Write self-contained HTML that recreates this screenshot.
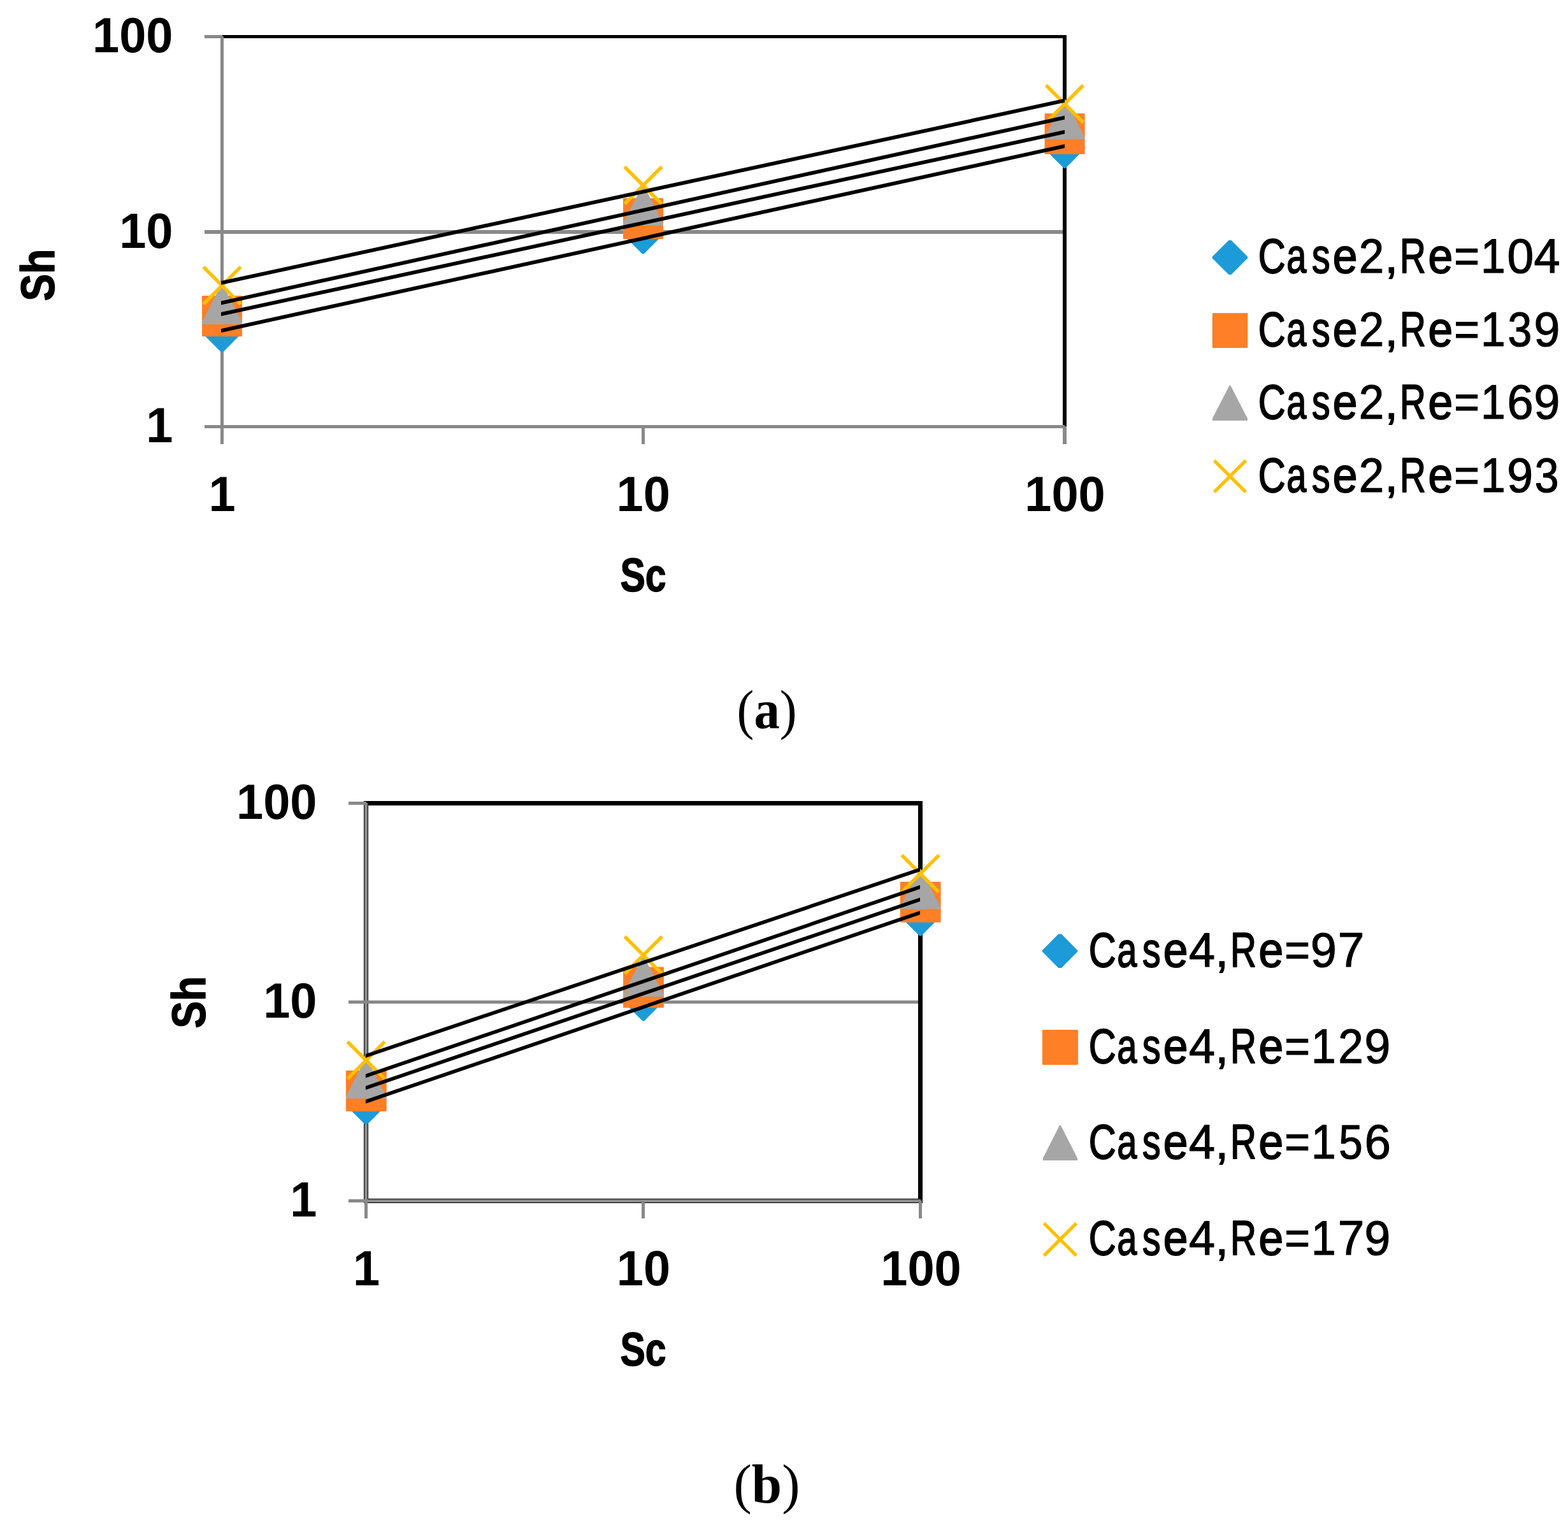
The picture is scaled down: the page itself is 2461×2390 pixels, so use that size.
<!DOCTYPE html>
<html lang="en">
<head>
<meta charset="utf-8">
<title>Sh versus Sc</title>
<style>
html, body { margin: 0; padding: 0; background: #ffffff; }
body { width: 2461px; height: 2390px; overflow: hidden; }
svg { display: block; }
text { font-family: "Liberation Sans", "DejaVu Sans", sans-serif; fill: #000000; }
text.cap { font-family: "Liberation Serif", "DejaVu Serif", serif; }
text.leg { stroke: #000000; stroke-width: 1.2px; stroke-linejoin: round; }
text.ttl { stroke: #000000; stroke-width: 1.5px; stroke-linejoin: round; }
</style>
</head>
<body>
<svg xmlns="http://www.w3.org/2000/svg" width="2461" height="2390" viewBox="0 0 2461 2390">
<rect x="0" y="0" width="2461" height="2390" fill="#ffffff"/>
<g shape-rendering="crispEdges">
<rect x="346" y="55" width="1328" height="5" fill="#000"/>
<rect x="1668" y="55" width="6" height="617" fill="#000"/>
<rect x="321" y="361" width="1347" height="6" fill="#898989"/>
<rect x="321" y="55" width="28" height="5" fill="#898989"/>
<rect x="321" y="667" width="1350" height="5" fill="#898989"/>
<rect x="346" y="57" width="5" height="640" fill="#898989"/>
<rect x="1007.2" y="669.5" width="5" height="27.5" fill="#898989"/>
<rect x="1668" y="669" width="6" height="28" fill="#898989"/>
</g>
<polygon points="347.15,489.8 349.75,489.8 379.95,520 379.95,522.6 349.75,552.8 347.15,552.8 316.95,522.6 316.95,520" fill="#1c9bd8"/>
<polygon points="1008.1,335.4 1010.7,335.4 1040.9,365.6 1040.9,368.2 1010.7,398.4 1008.1,398.4 977.9,368.2 977.9,365.6" fill="#1c9bd8"/>
<polygon points="1669.7,201 1672.3,201 1702.5,231.2 1702.5,233.8 1672.3,264 1669.7,264 1639.5,233.8 1639.5,231.2" fill="#1c9bd8"/>
<rect x="317.05" y="464.1" width="63" height="63.8" rx="1.2" ry="1.2" fill="#ff7f27"/>
<rect x="978" y="311.1" width="63" height="63.8" rx="1.2" ry="1.2" fill="#ff7f27"/>
<rect x="1639.6" y="178.1" width="63" height="63.8" rx="1.2" ry="1.2" fill="#ff7f27"/>
<polygon points="347.55,445.95 349.35,445.95 379.95,505.55 379.95,508.95 316.95,508.95 316.95,505.55" fill="#a6a6a6"/>
<polygon points="1008.5,291 1010.3,291 1040.9,350.6 1040.9,354 977.9,354 977.9,350.6" fill="#a6a6a6"/>
<polygon points="1670.1,155.8 1671.9,155.8 1702.5,215.4 1702.5,218.8 1639.5,218.8 1639.5,215.4" fill="#a6a6a6"/>
<path d="M319.24,418.84 L377.66,477.26 M377.66,418.84 L319.24,477.26" fill="none" stroke="#ffc000" stroke-width="5.5"/>
<path d="M980.19,261.69 L1038.61,320.11 M1038.61,261.69 L980.19,320.11" fill="none" stroke="#ffc000" stroke-width="5.5"/>
<path d="M1641.79,133.79 L1700.21,192.21 M1700.21,133.79 L1641.79,192.21" fill="none" stroke="#ffc000" stroke-width="5.5"/>
<g fill="#000">
<polygon points="347,515.93 1671,226.3 1671,232.3 347,521.93"/>
<polygon points="347,489.92 1671,203.9 1671,209.9 347,495.92"/>
<polygon points="347,472.43 1671,181.4 1671,187.4 347,478.43"/>
<polygon points="347,440.92 1671,154.8 1671,160.8 347,446.92"/>
</g>
<g shape-rendering="crispEdges">
<rect x="571" y="1257" width="877" height="7" fill="#000"/>
<rect x="1441" y="1257" width="7" height="631" fill="#000"/>
<rect x="571" y="1257" width="7" height="631" fill="#000"/>
<rect x="571" y="1881" width="877" height="7" fill="#000"/>
<rect x="547" y="1569.7" width="894" height="5.6" fill="#898989"/>
<rect x="547" y="1258" width="28" height="5" fill="#898989"/>
<rect x="547" y="1882" width="897.5" height="5" fill="#898989"/>
<rect x="572" y="1260" width="5" height="652" fill="#898989"/>
<rect x="1007" y="1884.5" width="5" height="27.5" fill="#898989"/>
<rect x="1442" y="1884" width="5" height="28" fill="#898989"/>
</g>
<polygon points="573.3,1702 575.9,1702 606.1,1732.2 606.1,1734.8 575.9,1765 573.3,1765 543.1,1734.8 543.1,1732.2" fill="#1c9bd8"/>
<polygon points="1008.5,1539.2 1011.1,1539.2 1041.3,1569.4 1041.3,1572 1011.1,1602.2 1008.5,1602.2 978.3,1572 978.3,1569.4" fill="#1c9bd8"/>
<polygon points="1443.2,1405.7 1445.8,1405.7 1476,1435.9 1476,1438.5 1445.8,1468.7 1443.2,1468.7 1413,1438.5 1413,1435.9" fill="#1c9bd8"/>
<rect x="542.9" y="1680.1" width="63.8" height="63.8" rx="1.2" ry="1.2" fill="#ff7f27"/>
<rect x="978.1" y="1517.6" width="63.8" height="63.8" rx="1.2" ry="1.2" fill="#ff7f27"/>
<rect x="1412.8" y="1383.7" width="63.8" height="63.8" rx="1.2" ry="1.2" fill="#ff7f27"/>
<polygon points="573.7,1661 575.5,1661 606.1,1720.6 606.1,1724 543.1,1724 543.1,1720.6" fill="#a6a6a6"/>
<polygon points="1008.9,1501 1010.7,1501 1041.3,1560.6 1041.3,1564 978.3,1564 978.3,1560.6" fill="#a6a6a6"/>
<polygon points="1443.6,1363.7 1445.4,1363.7 1476,1423.3 1476,1426.7 1413,1426.7 1413,1423.3" fill="#a6a6a6"/>
<path d="M545.39,1634.69 L603.81,1693.11 M603.81,1634.69 L545.39,1693.11" fill="none" stroke="#ffc000" stroke-width="5.5"/>
<path d="M980.59,1469.69 L1039.01,1528.11 M1039.01,1469.69 L980.59,1528.11" fill="none" stroke="#ffc000" stroke-width="5.5"/>
<path d="M1415.29,1341.89 L1473.71,1400.31 M1473.71,1341.89 L1415.29,1400.31" fill="none" stroke="#ffc000" stroke-width="5.5"/>
<g fill="#000">
<polygon points="573.9,1725.8 1444,1429.17 1444,1435.17 573.9,1731.8"/>
<polygon points="573.9,1704.2 1444,1408.57 1444,1414.57 573.9,1710.2"/>
<polygon points="573.9,1685.6 1444,1389.07 1444,1395.07 573.9,1691.6"/>
<polygon points="573.9,1654 1444,1361.57 1444,1367.57 573.9,1660"/>
</g>
<text transform="translate(271.5 82.3) scale(0.985 1)" font-size="77" font-weight="bold" text-anchor="end">100</text>
<text transform="translate(271.5 388.8) scale(0.985 1)" font-size="77" font-weight="bold" text-anchor="end">10</text>
<text transform="translate(271.5 694.3) scale(0.985 1)" font-size="77" font-weight="bold" text-anchor="end">1</text>
<text transform="translate(348.5 801.8) scale(0.985 1)" font-size="77" font-weight="bold" text-anchor="middle">1</text>
<text transform="translate(1009.7 801.8) scale(0.985 1)" font-size="77" font-weight="bold" text-anchor="middle">10</text>
<text transform="translate(1671.5 801.8) scale(0.985 1)" font-size="77" font-weight="bold" text-anchor="middle">100</text>
<text class="ttl" transform="translate(1009.5 928.4) scale(0.795 1)" font-size="74.2" font-weight="bold" text-anchor="middle">Sc</text>
<text transform="translate(84.6 431.6) rotate(-90) scale(0.862 1)" class="ttl" font-size="74.2" font-weight="bold" text-anchor="middle">Sh</text>
<text transform="translate(497.5 1285.3) scale(0.985 1)" font-size="77" font-weight="bold" text-anchor="end">100</text>
<text transform="translate(497.5 1597.3) scale(0.985 1)" font-size="77" font-weight="bold" text-anchor="end">10</text>
<text transform="translate(497.5 1909.3) scale(0.985 1)" font-size="77" font-weight="bold" text-anchor="end">1</text>
<text transform="translate(575 2016.5) scale(0.985 1)" font-size="77" font-weight="bold" text-anchor="middle">1</text>
<text transform="translate(1010 2016.5) scale(0.985 1)" font-size="77" font-weight="bold" text-anchor="middle">10</text>
<text transform="translate(1445.5 2016.5) scale(0.985 1)" font-size="77" font-weight="bold" text-anchor="middle">100</text>
<text class="ttl" transform="translate(1009.5 2142.9) scale(0.795 1)" font-size="74.2" font-weight="bold" text-anchor="middle">Sc</text>
<text transform="translate(322.1 1572.8) rotate(-90) scale(0.862 1)" class="ttl" font-size="74.2" font-weight="bold" text-anchor="middle">Sh</text>
<polygon points="1928.55,376.9 1932.35,376.9 1958.1,402.65 1958.1,405.35 1932.35,431.1 1928.55,431.1 1902.8,405.35 1902.8,402.65" fill="#1c9bd8"/>
<rect x="1902.8" y="491.2" width="55.5" height="54.8" rx="1.2" ry="1.2" fill="#ff7f27"/>
<polygon points="1929.55,605 1931.35,605 1957.95,656.6 1957.95,660 1902.95,660 1902.95,656.6" fill="#a6a6a6"/>
<path d="M1905.72,722.67 L1955.28,772.23 M1955.28,722.67 L1905.72,772.23" fill="none" stroke="#ffc000" stroke-width="5.3"/>
<text class="leg" y="427.9" font-size="75.5"><tspan x="1974.63" textLength="42.99" lengthAdjust="spacingAndGlyphs" stroke-width="1.9">C</tspan><tspan x="2019.15" textLength="31.17" lengthAdjust="spacingAndGlyphs" stroke-width="1.9">a</tspan><tspan x="2058.93" textLength="28.62" lengthAdjust="spacingAndGlyphs" stroke-width="1.9">s</tspan><tspan x="2091.76" textLength="38.7" lengthAdjust="spacingAndGlyphs" stroke-width="1.9">e</tspan><tspan x="2132.69" textLength="39.52" lengthAdjust="spacingAndGlyphs">2</tspan><tspan x="2173.02" textLength="21.44" lengthAdjust="spacingAndGlyphs">,</tspan><tspan x="2197.09" textLength="40.96" lengthAdjust="spacingAndGlyphs" stroke-width="1.9">R</tspan><tspan x="2241.49" textLength="38.7" lengthAdjust="spacingAndGlyphs" stroke-width="1.9">e</tspan><tspan x="2282.15" textLength="39.81" lengthAdjust="spacingAndGlyphs">=</tspan><tspan x="2324.07" textLength="38.81" lengthAdjust="spacingAndGlyphs">1</tspan><tspan x="2365.53" textLength="41.77" lengthAdjust="spacingAndGlyphs">0</tspan><tspan x="2407.6" textLength="41.09" lengthAdjust="spacingAndGlyphs">4</tspan></text>
<text class="leg" y="542.6" font-size="75.5"><tspan x="1974.63" textLength="42.99" lengthAdjust="spacingAndGlyphs" stroke-width="1.9">C</tspan><tspan x="2019.15" textLength="31.17" lengthAdjust="spacingAndGlyphs" stroke-width="1.9">a</tspan><tspan x="2058.93" textLength="28.62" lengthAdjust="spacingAndGlyphs" stroke-width="1.9">s</tspan><tspan x="2091.76" textLength="38.7" lengthAdjust="spacingAndGlyphs" stroke-width="1.9">e</tspan><tspan x="2132.69" textLength="39.52" lengthAdjust="spacingAndGlyphs">2</tspan><tspan x="2173.02" textLength="21.44" lengthAdjust="spacingAndGlyphs">,</tspan><tspan x="2197.09" textLength="40.96" lengthAdjust="spacingAndGlyphs" stroke-width="1.9">R</tspan><tspan x="2241.49" textLength="38.7" lengthAdjust="spacingAndGlyphs" stroke-width="1.9">e</tspan><tspan x="2282.15" textLength="39.81" lengthAdjust="spacingAndGlyphs">=</tspan><tspan x="2324.07" textLength="38.81" lengthAdjust="spacingAndGlyphs">1</tspan><tspan x="2366.62" textLength="37.79" lengthAdjust="spacingAndGlyphs">3</tspan><tspan x="2407.45" textLength="40.86" lengthAdjust="spacingAndGlyphs">9</tspan></text>
<text class="leg" y="657.3" font-size="75.5"><tspan x="1974.63" textLength="42.99" lengthAdjust="spacingAndGlyphs" stroke-width="1.9">C</tspan><tspan x="2019.15" textLength="31.17" lengthAdjust="spacingAndGlyphs" stroke-width="1.9">a</tspan><tspan x="2058.93" textLength="28.62" lengthAdjust="spacingAndGlyphs" stroke-width="1.9">s</tspan><tspan x="2091.76" textLength="38.7" lengthAdjust="spacingAndGlyphs" stroke-width="1.9">e</tspan><tspan x="2132.69" textLength="39.52" lengthAdjust="spacingAndGlyphs">2</tspan><tspan x="2173.02" textLength="21.44" lengthAdjust="spacingAndGlyphs">,</tspan><tspan x="2197.09" textLength="40.96" lengthAdjust="spacingAndGlyphs" stroke-width="1.9">R</tspan><tspan x="2241.49" textLength="38.7" lengthAdjust="spacingAndGlyphs" stroke-width="1.9">e</tspan><tspan x="2282.15" textLength="39.81" lengthAdjust="spacingAndGlyphs">=</tspan><tspan x="2324.07" textLength="38.81" lengthAdjust="spacingAndGlyphs">1</tspan><tspan x="2365.4" textLength="41.13" lengthAdjust="spacingAndGlyphs">6</tspan><tspan x="2407.45" textLength="40.86" lengthAdjust="spacingAndGlyphs">9</tspan></text>
<text class="leg" y="772" font-size="75.5"><tspan x="1974.63" textLength="42.99" lengthAdjust="spacingAndGlyphs" stroke-width="1.9">C</tspan><tspan x="2019.15" textLength="31.17" lengthAdjust="spacingAndGlyphs" stroke-width="1.9">a</tspan><tspan x="2058.93" textLength="28.62" lengthAdjust="spacingAndGlyphs" stroke-width="1.9">s</tspan><tspan x="2091.76" textLength="38.7" lengthAdjust="spacingAndGlyphs" stroke-width="1.9">e</tspan><tspan x="2132.69" textLength="39.52" lengthAdjust="spacingAndGlyphs">2</tspan><tspan x="2173.02" textLength="21.44" lengthAdjust="spacingAndGlyphs">,</tspan><tspan x="2197.09" textLength="40.96" lengthAdjust="spacingAndGlyphs" stroke-width="1.9">R</tspan><tspan x="2241.49" textLength="38.7" lengthAdjust="spacingAndGlyphs" stroke-width="1.9">e</tspan><tspan x="2282.15" textLength="39.81" lengthAdjust="spacingAndGlyphs">=</tspan><tspan x="2324.07" textLength="38.81" lengthAdjust="spacingAndGlyphs">1</tspan><tspan x="2365.21" textLength="40.86" lengthAdjust="spacingAndGlyphs">9</tspan><tspan x="2408.86" textLength="37.79" lengthAdjust="spacingAndGlyphs">3</tspan></text>
<polygon points="1661.2,1465.75 1665.9,1465.75 1691.2,1491.3 1691.2,1493.4 1665.9,1518.95 1661.2,1518.95 1635.9,1493.4 1635.9,1491.3" fill="#1c9bd8"/>
<rect x="1635.9" y="1615.9" width="56.2" height="55" rx="1.2" ry="1.2" fill="#ff7f27"/>
<polygon points="1663.05,1765.9 1664.85,1765.9 1691,1817.5 1691,1820.9 1636.9,1820.9 1636.9,1817.5" fill="#a6a6a6"/>
<path d="M1638.6,1919.65 L1689.3,1970.35 M1689.3,1919.65 L1638.6,1970.35" fill="none" stroke="#ffc000" stroke-width="5.3"/>
<text class="leg" y="1516.9" font-size="75.5"><tspan x="1708.63" textLength="42.99" lengthAdjust="spacingAndGlyphs" stroke-width="1.9">C</tspan><tspan x="1753.15" textLength="31.17" lengthAdjust="spacingAndGlyphs" stroke-width="1.9">a</tspan><tspan x="1792.93" textLength="28.62" lengthAdjust="spacingAndGlyphs" stroke-width="1.9">s</tspan><tspan x="1825.76" textLength="38.7" lengthAdjust="spacingAndGlyphs" stroke-width="1.9">e</tspan><tspan x="1865.89" textLength="41.09" lengthAdjust="spacingAndGlyphs">4</tspan><tspan x="1907.02" textLength="21.44" lengthAdjust="spacingAndGlyphs">,</tspan><tspan x="1931.09" textLength="40.96" lengthAdjust="spacingAndGlyphs" stroke-width="1.9">R</tspan><tspan x="1975.49" textLength="38.7" lengthAdjust="spacingAndGlyphs" stroke-width="1.9">e</tspan><tspan x="2016.15" textLength="39.81" lengthAdjust="spacingAndGlyphs">=</tspan><tspan x="2056.98" textLength="40.86" lengthAdjust="spacingAndGlyphs">9</tspan><tspan x="2099.63" textLength="41.61" lengthAdjust="spacingAndGlyphs">7</tspan></text>
<text class="leg" y="1667.7" font-size="75.5"><tspan x="1708.63" textLength="42.99" lengthAdjust="spacingAndGlyphs" stroke-width="1.9">C</tspan><tspan x="1753.15" textLength="31.17" lengthAdjust="spacingAndGlyphs" stroke-width="1.9">a</tspan><tspan x="1792.93" textLength="28.62" lengthAdjust="spacingAndGlyphs" stroke-width="1.9">s</tspan><tspan x="1825.76" textLength="38.7" lengthAdjust="spacingAndGlyphs" stroke-width="1.9">e</tspan><tspan x="1865.89" textLength="41.09" lengthAdjust="spacingAndGlyphs">4</tspan><tspan x="1907.02" textLength="21.44" lengthAdjust="spacingAndGlyphs">,</tspan><tspan x="1931.09" textLength="40.96" lengthAdjust="spacingAndGlyphs" stroke-width="1.9">R</tspan><tspan x="1975.49" textLength="38.7" lengthAdjust="spacingAndGlyphs" stroke-width="1.9">e</tspan><tspan x="2016.15" textLength="39.81" lengthAdjust="spacingAndGlyphs">=</tspan><tspan x="2058.07" textLength="38.81" lengthAdjust="spacingAndGlyphs">1</tspan><tspan x="2100.16" textLength="39.52" lengthAdjust="spacingAndGlyphs">2</tspan><tspan x="2141.45" textLength="40.86" lengthAdjust="spacingAndGlyphs">9</tspan></text>
<text class="leg" y="1818.4" font-size="75.5"><tspan x="1708.63" textLength="42.99" lengthAdjust="spacingAndGlyphs" stroke-width="1.9">C</tspan><tspan x="1753.15" textLength="31.17" lengthAdjust="spacingAndGlyphs" stroke-width="1.9">a</tspan><tspan x="1792.93" textLength="28.62" lengthAdjust="spacingAndGlyphs" stroke-width="1.9">s</tspan><tspan x="1825.76" textLength="38.7" lengthAdjust="spacingAndGlyphs" stroke-width="1.9">e</tspan><tspan x="1865.89" textLength="41.09" lengthAdjust="spacingAndGlyphs">4</tspan><tspan x="1907.02" textLength="21.44" lengthAdjust="spacingAndGlyphs">,</tspan><tspan x="1931.09" textLength="40.96" lengthAdjust="spacingAndGlyphs" stroke-width="1.9">R</tspan><tspan x="1975.49" textLength="38.7" lengthAdjust="spacingAndGlyphs" stroke-width="1.9">e</tspan><tspan x="2016.15" textLength="39.81" lengthAdjust="spacingAndGlyphs">=</tspan><tspan x="2058.07" textLength="38.81" lengthAdjust="spacingAndGlyphs">1</tspan><tspan x="2101.31" textLength="37.45" lengthAdjust="spacingAndGlyphs">5</tspan><tspan x="2141.64" textLength="41.13" lengthAdjust="spacingAndGlyphs">6</tspan></text>
<text class="leg" y="1969.2" font-size="75.5"><tspan x="1708.63" textLength="42.99" lengthAdjust="spacingAndGlyphs" stroke-width="1.9">C</tspan><tspan x="1753.15" textLength="31.17" lengthAdjust="spacingAndGlyphs" stroke-width="1.9">a</tspan><tspan x="1792.93" textLength="28.62" lengthAdjust="spacingAndGlyphs" stroke-width="1.9">s</tspan><tspan x="1825.76" textLength="38.7" lengthAdjust="spacingAndGlyphs" stroke-width="1.9">e</tspan><tspan x="1865.89" textLength="41.09" lengthAdjust="spacingAndGlyphs">4</tspan><tspan x="1907.02" textLength="21.44" lengthAdjust="spacingAndGlyphs">,</tspan><tspan x="1931.09" textLength="40.96" lengthAdjust="spacingAndGlyphs" stroke-width="1.9">R</tspan><tspan x="1975.49" textLength="38.7" lengthAdjust="spacingAndGlyphs" stroke-width="1.9">e</tspan><tspan x="2016.15" textLength="39.81" lengthAdjust="spacingAndGlyphs">=</tspan><tspan x="2058.07" textLength="38.81" lengthAdjust="spacingAndGlyphs">1</tspan><tspan x="2099.63" textLength="41.61" lengthAdjust="spacingAndGlyphs">7</tspan><tspan x="2141.45" textLength="40.86" lengthAdjust="spacingAndGlyphs">9</tspan></text>
<text class="cap" transform="translate(1203.6 1143.2) scale(0.925 1)" font-size="87.2" text-anchor="middle">(<tspan font-weight="bold">a</tspan>)</text>
<text class="cap" transform="translate(1203.5 2358.0) scale(0.976 1)" font-size="87.2" text-anchor="middle">(<tspan font-weight="bold">b</tspan>)</text>
</svg>
</body>
</html>
